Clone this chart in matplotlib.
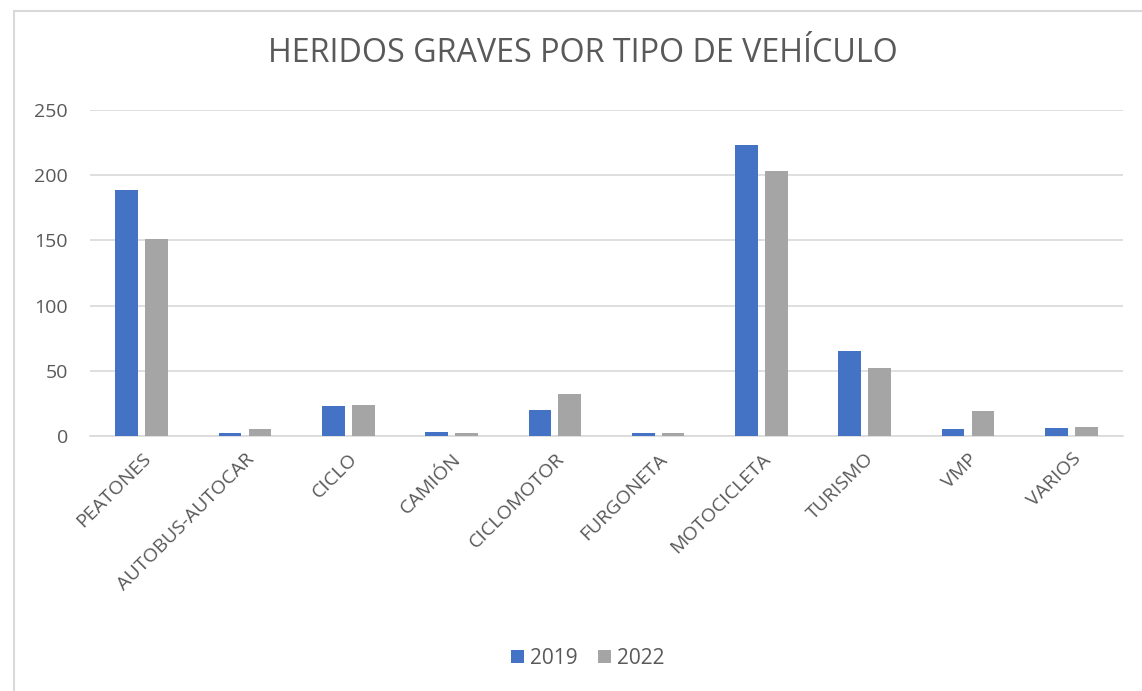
import matplotlib.pyplot as plt
import numpy as np

# data
categorias = ['PEATONES', 'AUTOBUS-AUTOCAR', 'CICLO', 'CAMIÓN', 'CICLOMOTOR',
              'FURGONETA', 'MOTOCICLETA', 'TURISMO', 'VMP', 'VARIOS']
heridos_2019 = [189, 2, 23, 3, 20, 2, 223, 65, 5, 6]
heridos_2022 = [151, 5, 24, 2, 32, 2, 203, 52, 19, 7]
yticks = [0, 50, 100, 150, 200, 250]

text_color = '#595959'
plt.rcParams['font.family'] = ['Open Sans', 'DejaVu Sans']

fig = plt.figure(figsize=(11.42, 6.91), dpi=100)
ax = fig.add_axes([90 / 1142, 1 - 436 / 691, 1033 / 1142, 326 / 691])

x = np.arange(len(categorias))
w = 0.22
ax.bar(x - 0.145, heridos_2019, width=w, color='#4472C4', label='2019', zorder=3)
ax.bar(x + 0.145, heridos_2022, width=w, color='#A5A5A5', label='2022', zorder=3)

ax.set_xlim(-0.5, len(categorias) - 0.5)
ax.set_ylim(0, 250)
ax.set_yticks(yticks)
ax.set_yticklabels([str(v) for v in yticks], fontsize=14, color=text_color)
ax.set_xticks(x)
ax.set_xticklabels(categorias, rotation=45, ha='right', rotation_mode='anchor',
                   fontsize=14, color=text_color)
ax.tick_params(axis='y', length=0, pad=16)
ax.tick_params(axis='x', length=0, pad=10)

ax.grid(axis='y', color='#D9D9D9', linewidth=1.2, zorder=0)
for side in ['top', 'right', 'left']:
    ax.spines[side].set_visible(False)
ax.spines['bottom'].set_color('#D9D9D9')
ax.spines['bottom'].set_linewidth(1.2)

fig.text(583 / 1142, 1 - 53 / 691, 'HERIDOS GRAVES POR TIPO DE VEHÍCULO',
         ha='center', va='center', fontsize=23.2, color=text_color)

leg = fig.legend(loc='center', bbox_to_anchor=(588 / 1142, 1 - 658 / 691), ncol=2,
                 frameon=False, fontsize=15, handlelength=0.6, handleheight=0.6,
                 handletextpad=0.3, columnspacing=1.0)
for t in leg.get_texts():
    t.set_color(text_color)

# chart frame (top and left edges visible)
fig.add_artist(plt.Line2D([14 / 1142, 1], [1 - 11 / 691, 1 - 11 / 691],
                          color='#D9D9D9', linewidth=1.5))
fig.add_artist(plt.Line2D([14 / 1142, 14 / 1142], [0, 1 - 11 / 691],
                          color='#D9D9D9', linewidth=1.5))

fig.savefig('out.png', dpi=100)
